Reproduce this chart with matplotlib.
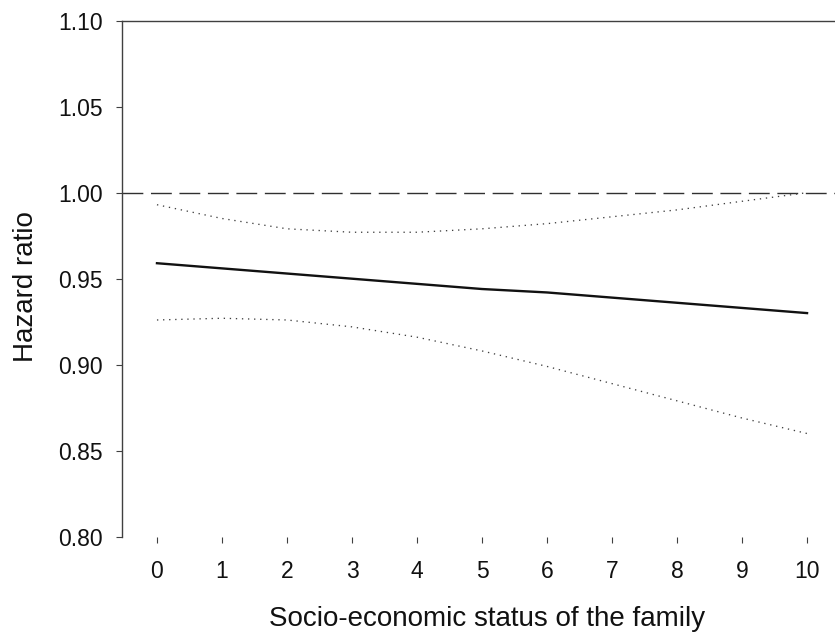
import numpy as np
import matplotlib
matplotlib.use('Agg')
import matplotlib.pyplot as plt

# values
ses = [0, 1, 2, 3, 4, 5, 6, 7, 8, 9, 10]
hr = [0.959, 0.956, 0.953, 0.950, 0.947, 0.944, 0.942, 0.939, 0.936, 0.933, 0.930]
hr_upper = [0.993, 0.985, 0.979, 0.977, 0.977, 0.979, 0.982, 0.986, 0.990, 0.995, 1.000]
hr_lower = [0.926, 0.927, 0.926, 0.922, 0.916, 0.908, 0.899, 0.889, 0.879, 0.869, 0.860]
reference_hr = 1.0

xticks = list(range(0, 11))
yticks = [0.80, 0.85, 0.90, 0.95, 1.00, 1.05, 1.10]

plt.rcParams['font.family'] = ['Liberation Sans', 'DejaVu Sans']

fig = plt.figure(figsize=(8.35, 6.36), dpi=100)
ax = fig.add_axes([0.1461, 0.1561, 0.8539, 0.8114])

ax.axhline(reference_hr, color='#303030', lw=1.0, ls=(0, (15, 5.5)))
ax.plot(ses, hr_upper, color='#404040', lw=0.95, ls=(0, (1, 3.6)))
ax.plot(ses, hr_lower, color='#404040', lw=0.95, ls=(0, (1, 3.6)))
ax.plot(ses, hr, color='#111111', lw=1.7)

ax.set_xlim(-0.538, 10.43)
ax.set_ylim(0.80, 1.10)
ax.set_xticks(xticks)
ax.set_yticks(yticks)
ax.set_yticklabels(['{:.2f}'.format(v) for v in yticks])

for side in ('right', 'bottom'):
    ax.spines[side].set_visible(False)
for side in ('left', 'top'):
    ax.spines[side].set_color('#404040')
    ax.spines[side].set_linewidth(1.0)

ax.tick_params(axis='both', direction='out', length=4.5, width=0.8,
               color='#404040', labelsize=16.5, labelcolor='#111111')
ax.tick_params(axis='x', pad=12)
ax.tick_params(axis='y', pad=9)

ax.set_xlabel('Socio-economic status of the family', fontsize=20, color='#111111')
ax.set_ylabel('Hazard ratio', fontsize=20, color='#111111')
ax.xaxis.set_label_coords(0.5126, -0.134)
ax.yaxis.set_label_coords(-0.116, 0.484)

fig.savefig('out.png', dpi=100)
plt.close(fig)
